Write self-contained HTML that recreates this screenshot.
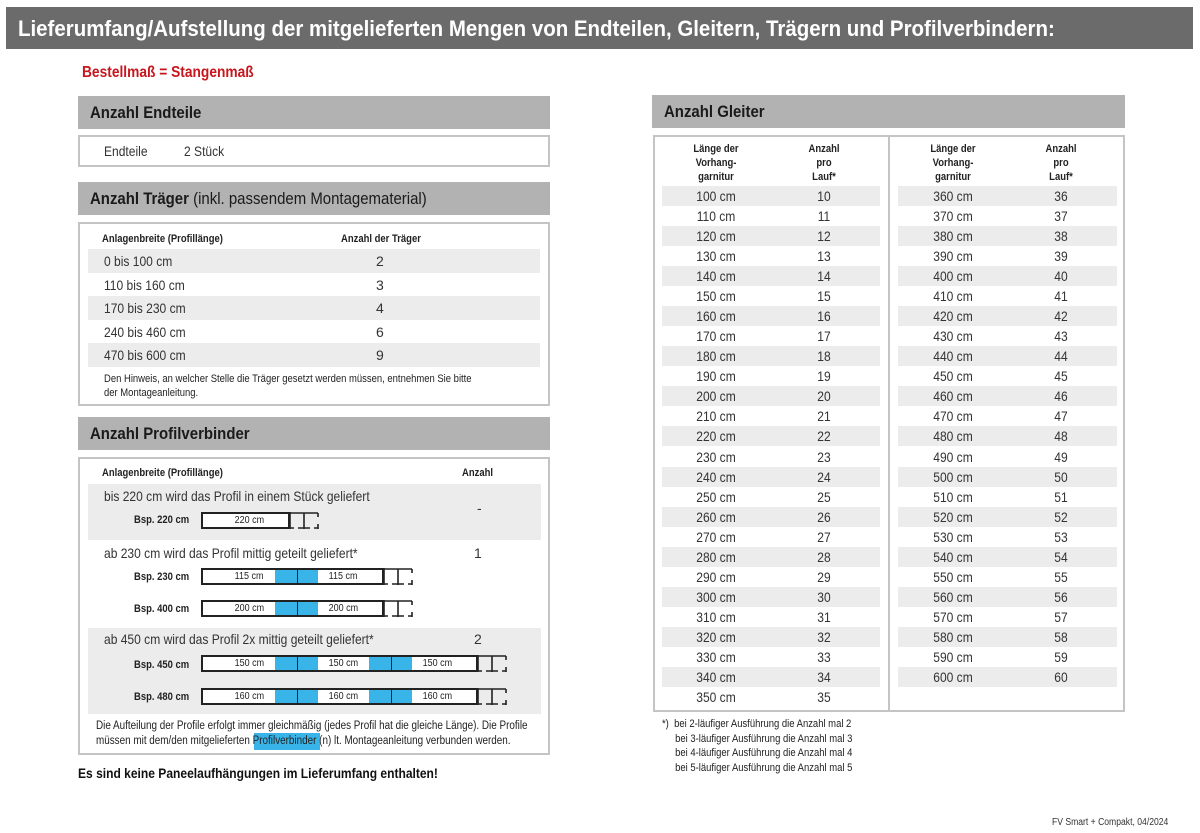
<!DOCTYPE html>
<html><head><meta charset="utf-8"><style>
*{margin:0;padding:0;box-sizing:border-box}
body{width:1200px;height:833px;background:#fff;position:relative;overflow:hidden;font-family:"Liberation Sans",sans-serif;color:#222}
.a{position:absolute;white-space:nowrap}
.c{transform:scaleX(.86);transform-origin:left center}
.cc{transform:scaleX(.86);transform-origin:center center;text-align:center}
.hd{position:absolute;background:#b2b2b2;height:33px}
.hd span{position:absolute;left:12px;top:7px;font-size:17px;font-weight:bold;color:#1a1a1a;white-space:nowrap;transform:scaleX(.88);transform-origin:left center}
.box{position:absolute;border:2px solid #c4c4c4;background:#fff}
.g{position:absolute;background:#ececec}
.r{position:absolute;font-size:14px;color:#333;white-space:nowrap}
.sm{font-size:11px;font-weight:bold;color:#222}
.bar{position:absolute;border:2px solid #222;background:#fff;height:17px}
.bl{position:absolute;background:#39b4e8;height:13px;top:0}
.bt{position:absolute;font-size:10px;top:1px;color:#222;white-space:nowrap;transform:scaleX(.9)}
.dv{position:absolute;width:1px;background:#222;top:0;height:13px}
</style></head><body>
<div class="a" style="left:6px;top:7px;width:1187px;height:42px;background:#6b6b6b"></div>
<div class="a c" style="left:18px;top:16px;font-size:22px;font-weight:bold;color:#fff;transform:scaleX(.93)">Lieferumfang/Aufstellung der mitgelieferten Mengen von Endteilen, Gleitern, Trägern und Profilverbindern:</div>
<div class="a c" style="left:82px;top:64px;font-size:16px;font-weight:bold;color:#c8161d">Bestellmaß = Stangenmaß</div>

<div class="hd" style="left:78px;top:96px;width:472px"><span>Anzahl Endteile</span></div>
<div class="box" style="left:78px;top:135px;width:472px;height:32px"></div>
<div class="r c" style="left:104px;top:143px">Endteile</div>
<div class="r c" style="left:184px;top:143px">2 Stück</div>

<div class="hd" style="left:78px;top:182px;width:472px"><span>Anzahl Träger <b style="font-weight:normal">(inkl. passendem Montagematerial)</b></span></div>
<div class="box" style="left:78px;top:222px;width:472px;height:184px"></div>
<div class="a c sm" style="left:102px;top:233px">Anlagenbreite (Profillänge)</div>
<div class="a c sm" style="left:341px;top:233px">Anzahl der Träger</div>
<div class="g" style="left:88px;top:249px;width:452px;height:24px"></div>
<div class="g" style="left:88px;top:296px;width:452px;height:24px"></div>
<div class="g" style="left:88px;top:343px;width:452px;height:24px"></div>
<div class="r c" style="left:104px;top:253px">0 bis 100 cm</div><div class="r" style="left:376px;top:253px">2</div>
<div class="r c" style="left:104px;top:277px">110 bis 160 cm</div><div class="r" style="left:376px;top:277px">3</div>
<div class="r c" style="left:104px;top:300px">170 bis 230 cm</div><div class="r" style="left:376px;top:300px">4</div>
<div class="r c" style="left:104px;top:324px">240 bis 460 cm</div><div class="r" style="left:376px;top:324px">6</div>
<div class="r c" style="left:104px;top:347px">470 bis 600 cm</div><div class="r" style="left:376px;top:347px">9</div>
<div class="a c" style="left:104px;top:372px;font-size:11px;line-height:14px">Den Hinweis, an welcher Stelle die Träger gesetzt werden müssen, entnehmen Sie bitte<br>der Montageanleitung.</div>

<div class="hd" style="left:78px;top:417px;width:472px"><span>Anzahl Profilverbinder</span></div>
<div class="box" style="left:78px;top:457px;width:472px;height:298px"></div>
<div class="a c sm" style="left:102px;top:467px">Anlagenbreite (Profillänge)</div>
<div class="a c sm" style="left:462px;top:467px">Anzahl</div>
<div class="g" style="left:88px;top:484px;width:453px;height:56px"></div>
<div class="g" style="left:88px;top:628px;width:453px;height:86px"></div>
<div class="r c" style="left:104px;top:488px">bis 220 cm wird das Profil in einem Stück geliefert</div>
<div class="r" style="left:477px;top:500px">-</div>
<div class="r c" style="left:104px;top:545px">ab 230 cm wird das Profil mittig geteilt geliefert*</div>
<div class="r" style="left:474px;top:545px">1</div>
<div class="r c" style="left:104px;top:631px">ab 450 cm wird das Profil 2x mittig geteilt geliefert*</div>
<div class="r" style="left:474px;top:631px">2</div>

<div class="a c sm" style="left:134px;top:514px">Bsp. 220 cm</div>
<div class="bar" style="left:201px;top:512px;width:89px"><span class="bt" style="left:30px">220 cm</span></div>
<div class="a c sm" style="left:134px;top:571px">Bsp. 230 cm</div>
<div class="bar" style="left:201px;top:568px;width:183px"><span class="bt" style="left:30px">115 cm</span><div class="bl" style="left:72px;width:43px"></div><div class="dv" style="left:94px"></div><span class="bt" style="left:124px">115 cm</span></div>
<div class="a c sm" style="left:134px;top:603px">Bsp. 400 cm</div>
<div class="bar" style="left:201px;top:600px;width:183px"><span class="bt" style="left:30px">200 cm</span><div class="bl" style="left:72px;width:43px"></div><div class="dv" style="left:94px"></div><span class="bt" style="left:124px">200 cm</span></div>
<div class="a c sm" style="left:134px;top:659px">Bsp. 450 cm</div>
<div class="bar" style="left:201px;top:655px;width:277px"><span class="bt" style="left:30px">150 cm</span><div class="bl" style="left:72px;width:43px"></div><div class="dv" style="left:94px"></div><span class="bt" style="left:124px">150 cm</span><div class="bl" style="left:166px;width:43px"></div><div class="dv" style="left:188px"></div><span class="bt" style="left:218px">150 cm</span></div>
<div class="a c sm" style="left:134px;top:691px">Bsp. 480 cm</div>
<div class="bar" style="left:201px;top:688px;width:277px"><span class="bt" style="left:30px">160 cm</span><div class="bl" style="left:72px;width:43px"></div><div class="dv" style="left:94px"></div><span class="bt" style="left:124px">160 cm</span><div class="bl" style="left:166px;width:43px"></div><div class="dv" style="left:188px"></div><span class="bt" style="left:218px">160 cm</span></div>
<svg class="a" style="left:0;top:0" width="1200" height="833">
<g stroke="#222" stroke-width="1.6" fill="none">
<path id="k" d="M290 512v17M290 513h28M318 513v4M318 524v5M304 513v16M298 528h12M290 528h4M314 528h4"/>
<use href="#k" x="94" y="56"/><use href="#k" x="94" y="88"/><use href="#k" x="188" y="143"/><use href="#k" x="188" y="176"/>
</g></svg>
<div class="a" style="left:254px;top:733px;width:66px;height:17px;background:#39b4e8"></div>
<div class="a c" style="left:96px;top:719px;font-size:11.5px;line-height:15px">Die Aufteilung der Profile erfolgt immer gleichmäßig (jedes Profil hat die gleiche Länge). Die Profile<br>müssen mit dem/den mitgelieferten Profilverbinder (n) lt. Montageanleitung verbunden werden.</div>
<div class="a c" style="left:78px;top:765px;font-size:14px;font-weight:bold;color:#111">Es sind keine Paneelaufhängungen im Lieferumfang enthalten!</div>

<div class="hd" style="left:652px;top:95px;width:473px"><span>Anzahl Gleiter</span></div>
<div class="box" style="left:653px;top:135px;width:472px;height:577px"></div>
<div class="a" style="left:888px;top:136px;width:2px;height:575px;background:#c4c4c4"></div>
<div class="a cc sm" style="left:676px;top:142px;width:80px;line-height:14px;font-size:11px">Länge der<br>Vorhang-<br>garnitur</div>
<div class="a cc sm" style="left:784px;top:142px;width:80px;line-height:14px;font-size:11px">Anzahl<br>pro<br>Lauf*</div>
<div class="a cc sm" style="left:913px;top:142px;width:80px;line-height:14px;font-size:11px">Länge der<br>Vorhang-<br>garnitur</div>
<div class="a cc sm" style="left:1021px;top:142px;width:80px;line-height:14px;font-size:11px">Anzahl<br>pro<br>Lauf*</div>
<div id="tbl"></div>
<script>
var h='';
for(var i=0;i<26;i++){var y=186+i*20.04;
 if(i%2==0)h+='<div class="g" style="left:662px;top:'+y+'px;width:218px;height:20px"></div>';
 h+='<div class="r cc" style="left:676px;top:'+(y+2)+'px;width:80px">'+(100+i*10)+' cm</div><div class="r cc" style="left:784px;top:'+(y+2)+'px;width:80px">'+(10+i)+'</div>';
 if(360+i*10<=600){
 if(i%2==0)h+='<div class="g" style="left:898px;top:'+y+'px;width:219px;height:20px"></div>';
 h+='<div class="r cc" style="left:913px;top:'+(y+2)+'px;width:80px">'+(360+i*10)+' cm</div><div class="r cc" style="left:1021px;top:'+(y+2)+'px;width:80px">'+(36+i)+'</div>';}
}
document.getElementById('tbl').innerHTML=h;
</script>
<div class="a c" style="left:662px;top:717px;font-size:11px;line-height:14.5px">*)&nbsp; bei 2-läufiger Ausführung die Anzahl mal 2<br>&nbsp;&nbsp;&nbsp;&nbsp;&nbsp;bei 3-läufiger Ausführung die Anzahl mal 3<br>&nbsp;&nbsp;&nbsp;&nbsp;&nbsp;bei 4-läufiger Ausführung die Anzahl mal 4<br>&nbsp;&nbsp;&nbsp;&nbsp;&nbsp;bei 5-läufiger Ausführung die Anzahl mal 5</div>
<div class="a" style="right:32px;top:817px;font-size:10px;color:#333;transform:scaleX(.86);transform-origin:right center">FV Smart + Compakt, 04/2024</div>
</body></html>
